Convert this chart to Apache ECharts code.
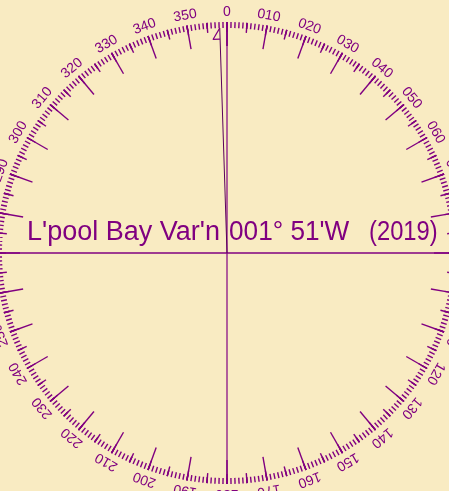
<!DOCTYPE html>
<html>
<head>
<meta charset="utf-8">
<script src="https://cdn.jsdelivr.net/npm/echarts@6/dist/echarts.min.js"></script>
<style>
html,body{margin:0;padding:0;background:#f9ebc2;}
#c{width:449px;height:491px;}
</style>
</head>
<body>
<div id="c"></div>
<script>
// ---- data ----
const bearingLabels = ['0','010','020','030','040','050','060','070','080','090',
  '100','110','120','130','140','150','160','170','180','190',
  '200','210','220','230','240','250','260','270','280','290',
  '300','310','320','330','340','350'];
const placeName = "L'pool Bay Var'n";
const variationText = "001° 51'W";
const yearText = "(2019)";
const variationDeg = 1;
const variationMin = 51;
// magnetic north bearing (west variation => counter-clockwise)
const magBearing = 360 - (variationDeg + variationMin / 60);
const ringRadius = 231;
const arrowTipR = 225, arrowBaseR = 214, arrowBarbAngle = 1.9;
const northSouthLine = [[ringRadius, 0], [ringRadius, 180]];
const eastWestLine = [[ringRadius, 270], [ringRadius, 90]];
const magneticLine = [[0, 0], [arrowTipR, magBearing]];
const magneticArrow = [[arrowTipR, magBearing], [arrowBaseR, magBearing - arrowBarbAngle], [arrowBaseR, magBearing]];

const PURPLE = '#800080';
const C = [227, 253];
const FONT = '27px "Liberation Sans", Arial, sans-serif';
const chart = echarts.init(document.getElementById('c'), null, {renderer: 'canvas'});

const baseGauge = {
  type: 'gauge', center: C, radius: ringRadius, min: 0, max: 360,
  startAngle: 90, endAngle: -270, clockwise: true,
  axisLine: {show: false, lineStyle: {width: 0}},
  pointer: {show: false}, anchor: {show: false}, progress: {show: false},
  title: {show: false}, detail: {show: false},
  data: [{value: 0}], silent: true, animation: false
};

chart.setOption({
  backgroundColor: '#f9ebc2',
  animation: false,
  polar: {center: C, radius: ringRadius},
  angleAxis: {type: 'value', min: 0, max: 360, startAngle: 90, clockwise: true, show: false},
  radiusAxis: {type: 'value', min: 0, max: ringRadius, show: false},
  graphic: [
    {type: 'text', x: 27, y: 219, style: {text: placeName, fill: PURPLE, font: FONT, verticalAlign: 'top'}},
    {type: 'text', x: 229, y: 219, scaleX: 0.97, style: {text: variationText, fill: PURPLE, font: FONT, verticalAlign: 'top'}},
    {type: 'text', x: 369, y: 219, scaleX: 0.88, style: {text: yearText, fill: PURPLE, font: FONT, verticalAlign: 'top'}}
  ],
  series: [
    Object.assign({}, baseGauge, {
      splitNumber: 72,
      splitLine: {show: true, distance: 0, length: 10, lineStyle: {color: PURPLE, width: 1.4}},
      axisTick: {show: true, distance: 0, splitNumber: 5, length: 6, lineStyle: {color: PURPLE, width: 1.4}},
      axisLabel: {show: false}
    }),
    Object.assign({}, baseGauge, {
      splitNumber: 36,
      splitLine: {show: true, distance: 0, length: 24, lineStyle: {color: PURPLE, width: 1.4}},
      axisTick: {show: false},
      axisLabel: {
        show: true, distance: -34, rotate: 'tangential', color: PURPLE,
        fontSize: 14, fontFamily: 'Liberation Sans',
        formatter: function (v) { const i = Math.round(v / 10); return i < bearingLabels.length ? bearingLabels[i] : ''; }
      }
    }),
    {type: 'line', coordinateSystem: 'polar', data: northSouthLine, symbol: 'none', silent: true,
      lineStyle: {color: PURPLE, width: 2, opacity: 0.6}},
    {type: 'line', coordinateSystem: 'polar', data: eastWestLine, symbol: 'none', silent: true,
      lineStyle: {color: PURPLE, width: 1.6}},
    {type: 'line', coordinateSystem: 'polar', data: magneticLine, symbol: 'none', silent: true,
      lineStyle: {color: '#5a005a', width: 1}},
    {type: 'line', coordinateSystem: 'polar', data: magneticArrow, symbol: 'none', silent: true,
      lineStyle: {color: PURPLE, width: 1.2}}
  ]
});
</script>
</body>
</html>
